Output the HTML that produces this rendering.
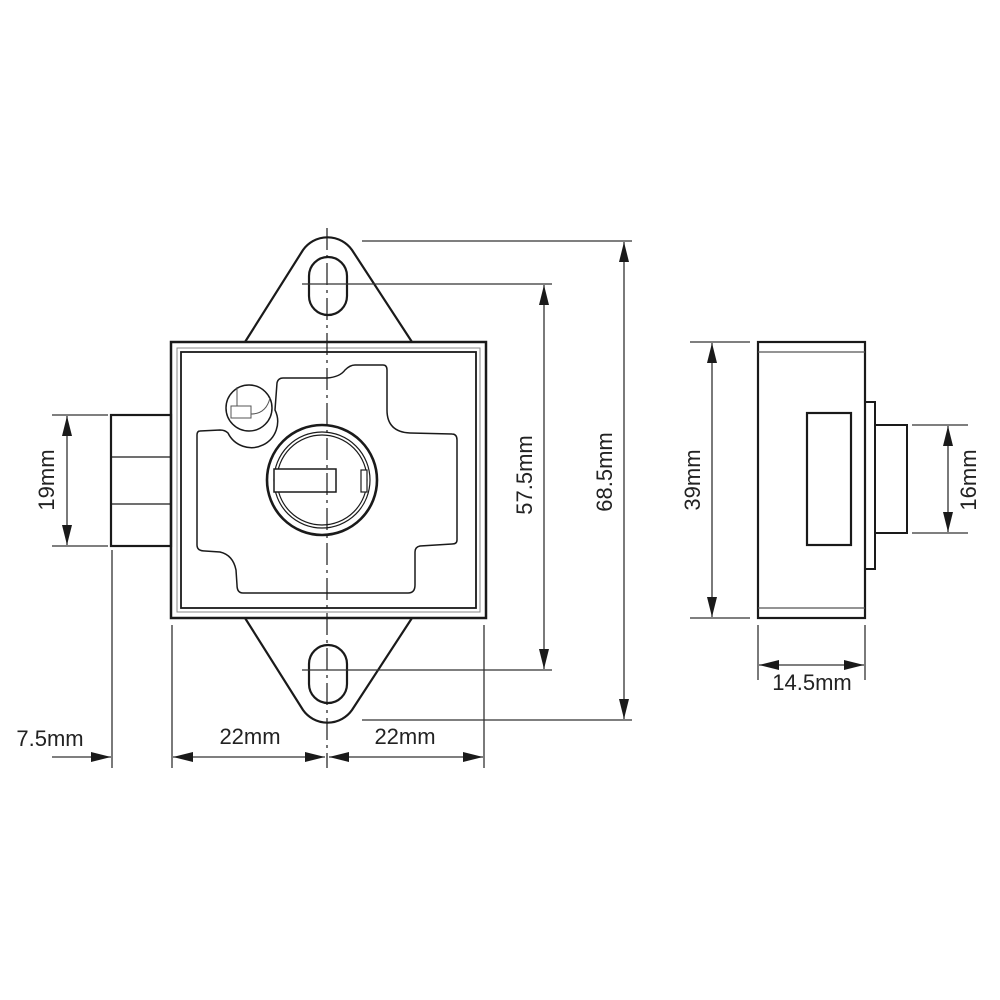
<!DOCTYPE html>
<html><head><style>
html,body{margin:0;padding:0;background:#fff;}
svg{display:block;}
text{font-family:"Liberation Sans",Arial,sans-serif;font-size:22px;fill:#222;}
</style></head><body>
<svg width="1000" height="1000" viewBox="0 0 1000 1000" xmlns="http://www.w3.org/2000/svg">
<defs>
<marker id="a" viewBox="0 0 20 10" refX="20" refY="5" markerWidth="20" markerHeight="10" markerUnits="userSpaceOnUse" orient="auto-start-reverse">
<path d="M0,0 L20,5 L0,10 z" fill="#1a1a1a"/></marker>
</defs>
<g fill="none" stroke="#1a1a1a" stroke-width="2.2">
<!-- ears -->
<path d="M245,342 L303,250 A30,30 0 0 1 352,250 L412,342"/>
<path d="M245,618 L303,710 A30,30 0 0 0 352,710 L412,618"/>
<rect x="309" y="257" width="38" height="58" rx="19"/>
<rect x="309" y="645" width="38" height="58" rx="19"/>
<!-- body -->
<rect x="171" y="342" width="315" height="276" stroke-width="2.5"/>
<rect x="177" y="348" width="303" height="264" stroke="#888" stroke-width="1"/>
<rect x="181" y="352" width="295" height="256" stroke-width="1.8"/>
<!-- bolt -->
<rect x="111" y="415" width="60" height="131" stroke-width="2.2"/>
<line x1="111" y1="457" x2="171" y2="457" stroke-width="1.2"/>
<line x1="111" y1="504" x2="171" y2="504" stroke-width="1.2"/>
<!-- cutout -->
<path stroke-width="1.5" d="M200,431 L220,430 Q225,430 228,433 A25,25 0 0 0 275,410 L277,383 Q278,378 283,378 L327,378 Q340,377 345,370 Q350,365 355,365 L383,365 Q387,365 387,370 L387,410 Q387,432 410,433 L452,434 Q457,434 457,440 L457,540 Q457,544 452,544 L420,546 Q415,547 415,552 L415,585 Q415,593 408,593 L243,593 Q237,593 237,585 L236,570 Q233,555 220,552 L205,551 Q197,551 197,545 L197,435 Q197,431 200,431 Z"/>
<!-- small circle -->
<circle cx="249" cy="408" r="23" stroke-width="1.5"/>
<rect x="231" y="406" width="20" height="12" stroke="#555" stroke-width="1"/>
<path d="M237,387 L237,406 M251,414 Q266,414 270,398" stroke="#555" stroke-width="1"/>
<!-- cam -->
<circle cx="322" cy="480" r="55" stroke-width="2.6"/>
<circle cx="322" cy="480" r="48" stroke-width="1.2"/>
<circle cx="322" cy="480" r="45" stroke-width="1.2"/>
<rect x="274" y="469" width="62" height="23" stroke-width="1.5" fill="#fff"/>
<rect x="361" y="470" width="6" height="22" stroke-width="1.2" fill="#fff"/>
<!-- centre line -->
<line x1="327" y1="228" x2="327" y2="768" stroke-width="1.2" stroke-dasharray="22,5,3,5"/>
<!-- side view -->
<rect x="758" y="342" width="107" height="276" stroke-width="2.2"/>
<line x1="758" y1="352" x2="865" y2="352" stroke="#555" stroke-width="1.2"/>
<line x1="758" y1="608" x2="865" y2="608" stroke="#555" stroke-width="1.2"/>
<rect x="807" y="413" width="44" height="132" stroke-width="2.2"/>
<rect x="865" y="402" width="10" height="167" stroke-width="2"/>
<rect x="875" y="425" width="32" height="108" stroke-width="2"/>
</g>
<!-- dimension lines -->
<g stroke="#333" stroke-width="1.3" fill="none">
<line x1="362" y1="241" x2="632" y2="241"/>
<line x1="362" y1="720" x2="632" y2="720"/>
<line x1="624" y1="242" x2="624" y2="719" marker-start="url(#a)" marker-end="url(#a)"/>
<line x1="302" y1="284" x2="552" y2="284"/>
<line x1="302" y1="670" x2="552" y2="670"/>
<line x1="544" y1="285" x2="544" y2="669" marker-start="url(#a)" marker-end="url(#a)"/>
<line x1="52" y1="415" x2="108" y2="415"/>
<line x1="52" y1="546" x2="108" y2="546"/>
<line x1="67" y1="416" x2="67" y2="545" marker-start="url(#a)" marker-end="url(#a)"/>
<line x1="690" y1="342" x2="750" y2="342"/>
<line x1="690" y1="618" x2="750" y2="618"/>
<line x1="712" y1="343" x2="712" y2="617" marker-start="url(#a)" marker-end="url(#a)"/>
<line x1="912" y1="425" x2="968" y2="425"/>
<line x1="912" y1="533" x2="968" y2="533"/>
<line x1="948" y1="426" x2="948" y2="532" marker-start="url(#a)" marker-end="url(#a)"/>
<line x1="758" y1="625" x2="758" y2="680"/>
<line x1="865" y1="625" x2="865" y2="680"/>
<line x1="759" y1="665" x2="864" y2="665" marker-start="url(#a)" marker-end="url(#a)"/>
<line x1="112" y1="550" x2="112" y2="768"/>
<line x1="172" y1="625" x2="172" y2="768"/>
<line x1="484" y1="625" x2="484" y2="768"/>
<line x1="52" y1="757" x2="111" y2="757" marker-end="url(#a)"/>
<line x1="173" y1="757" x2="325" y2="757" marker-start="url(#a)" marker-end="url(#a)"/>
<line x1="329" y1="757" x2="483" y2="757" marker-start="url(#a)" marker-end="url(#a)"/>
</g>
<text x="50" y="746" text-anchor="middle">7.5mm</text>
<text x="250" y="744" text-anchor="middle">22mm</text>
<text x="405" y="744" text-anchor="middle">22mm</text>
<text x="812" y="690" text-anchor="middle">14.5mm</text>
<text transform="translate(54,480) rotate(-90)" text-anchor="middle">19mm</text>
<text transform="translate(532,475) rotate(-90)" text-anchor="middle">57.5mm</text>
<text transform="translate(612,472) rotate(-90)" text-anchor="middle">68.5mm</text>
<text transform="translate(700,480) rotate(-90)" text-anchor="middle">39mm</text>
<text transform="translate(976,480) rotate(-90)" text-anchor="middle">16mm</text>
</svg>
</body></html>
